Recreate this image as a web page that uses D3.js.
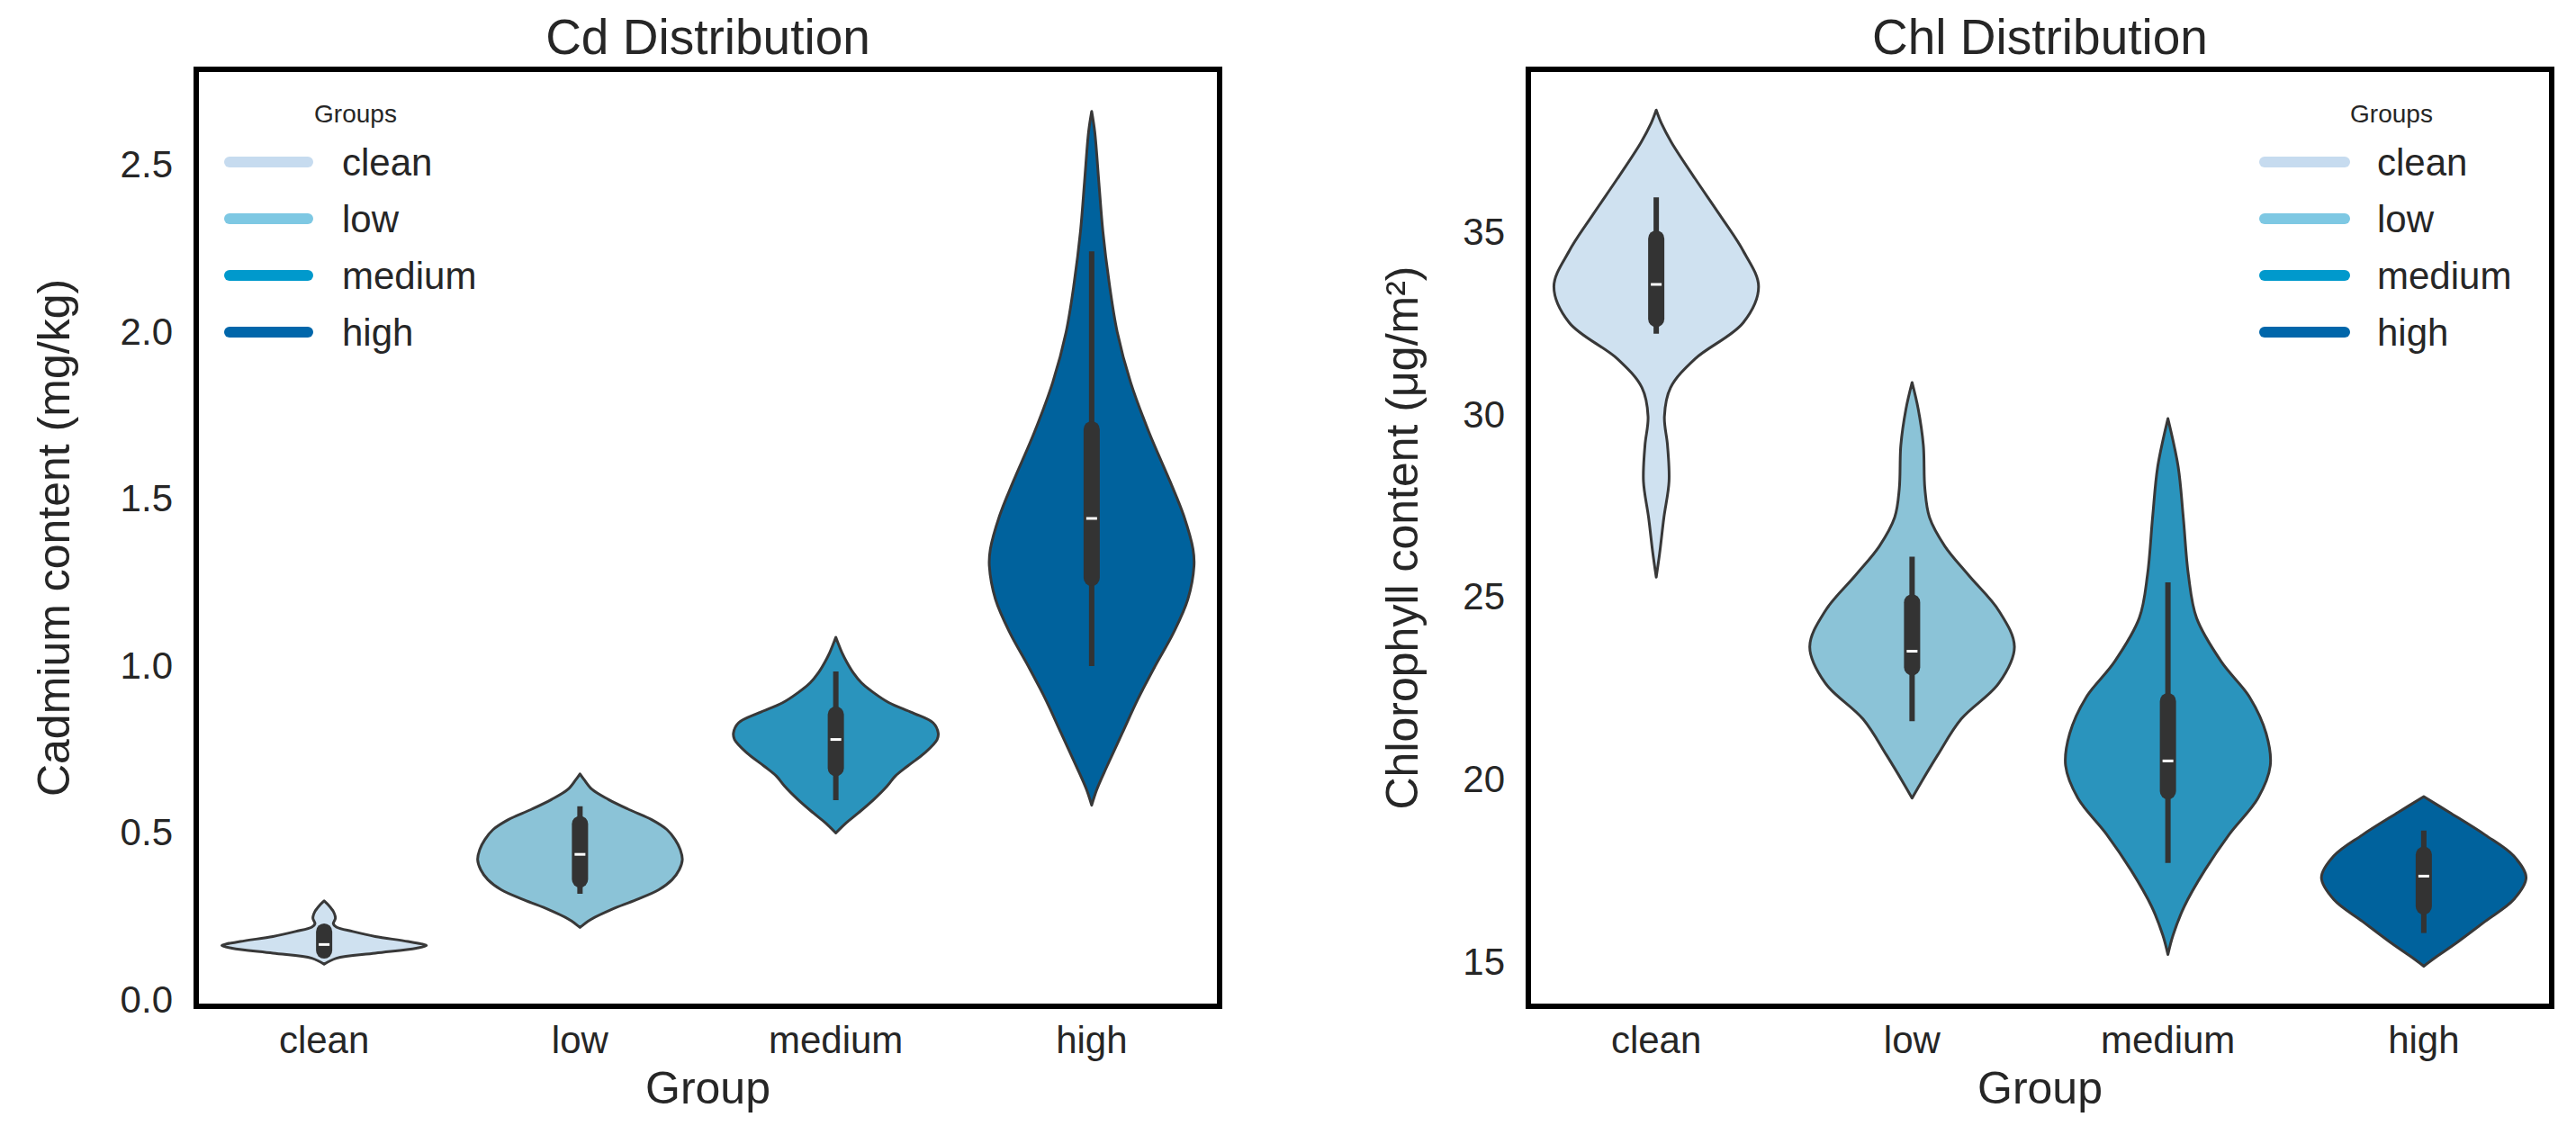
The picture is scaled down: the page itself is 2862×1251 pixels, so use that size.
<!DOCTYPE html>
<html>
<head>
<meta charset="utf-8">
<script src="https://cdn.jsdelivr.net/npm/d3@7/dist/d3.min.js"></script>
<style>
  html, body { margin: 0; padding: 0; background: #ffffff; }
  svg { display: block; }
  text { font-family: "Liberation Sans", Arial, sans-serif; fill: #262626; }
</style>
</head>
<body>
<svg id="chart" width="2862" height="1251"></svg>
<script>
// ---------------- DATA ----------------
const groups = ["clean", "low", "medium", "high"];
const legendColors = ["#c6dbef", "#7ec8e3", "#0099cc", "#0066aa"];
const fillColors = ["#cfe1f0", "#8bc3d7", "#2a94bd", "#00629d"];

const cdTicks = [0.0, 0.5, 1.0, 1.5, 2.0, 2.5];
const chlTicks = [15, 20, 25, 30, 35];

// violin density profiles: [value, relative width 0..1]
const cdClean = [[0.107,0],[0.125,0.12],[0.14,0.5],[0.155,0.9],[0.163,1.0],[0.175,0.82],[0.19,0.5],[0.205,0.28],[0.218,0.12],[0.228,0.09],[0.245,0.11],[0.265,0.09],[0.285,0.04],[0.297,0]];
const cdLow = [[0.217,0],[0.24,0.1],[0.27,0.3],[0.30,0.55],[0.33,0.77],[0.36,0.9],[0.39,0.97],[0.42,1.0],[0.45,0.98],[0.48,0.93],[0.51,0.85],[0.54,0.7],[0.57,0.48],[0.60,0.28],[0.63,0.12],[0.66,0.04],[0.677,0]];
const cdMedium = [[0.50,0],[0.53,0.1],[0.56,0.22],[0.60,0.37],[0.64,0.5],[0.67,0.58],[0.70,0.7],[0.74,0.87],[0.78,0.99],[0.80,1.0],[0.83,0.95],[0.86,0.75],[0.89,0.52],[0.92,0.37],[0.95,0.25],[0.98,0.17],[1.01,0.11],[1.04,0.06],[1.07,0.02],[1.086,0]];
const cdHigh = [[0.583,0],[0.63,0.05],[0.7,0.15],[0.8,0.3],[0.9,0.45],[1.0,0.62],[1.1,0.8],[1.2,0.94],[1.3,1.0],[1.35,0.99],[1.45,0.9],[1.55,0.77],[1.7,0.56],[1.85,0.38],[2.0,0.25],[2.15,0.17],[2.3,0.11],[2.45,0.07],[2.6,0.03],[2.661,0]];

const chlClean = [[25.55,0],[26.2,0.033],[27.19,0.075],[28.18,0.125],[29.17,0.11],[29.96,0.08],[30.75,0.14],[31.54,0.38],[32.53,0.85],[33.52,1.0],[34.5,0.85],[35.49,0.62],[36.48,0.38],[37.47,0.15],[38.0,0.05],[38.36,0]];
const chlLow = [[19.49,0],[19.88,0.08],[20.67,0.25],[21.66,0.48],[22.65,0.85],[23.64,1.0],[24.62,0.85],[25.61,0.55],[26.4,0.32],[27.19,0.17],[27.98,0.125],[29.17,0.11],[30.16,0.06],[30.89,0]];
const chlMedium = [[15.2,0],[15.73,0.05],[16.52,0.16],[17.51,0.36],[18.5,0.6],[19.49,0.88],[20.38,1.0],[21.26,0.96],[22.25,0.8],[23.24,0.52],[24.43,0.28],[25.61,0.2],[27.19,0.15],[28.58,0.1],[29.9,0]];
const chlHigh = [[14.88,0],[15.13,0.12],[15.52,0.32],[16.11,0.6],[16.71,0.88],[17.31,1.0],[17.9,0.88],[18.48,0.6],[19.1,0.25],[19.53,0]];

// inner box stats: [whiskerLow, q1, median, q3, whiskerHigh]
const cdBox = [[0.13,0.148,0.166,0.205,0.222],[0.318,0.361,0.436,0.527,0.58],[0.598,0.694,0.78,0.855,0.984],[1.0,1.264,1.442,1.709,2.242]];
const chlBox = [[32.23,32.63,33.58,34.84,35.97],[21.6,23.08,23.52,24.86,26.11],[17.71,19.68,20.51,22.15,25.41],[15.79,16.52,17.35,17.94,18.6]];

const panels = [
  { title: "Cd Distribution", ylabel: "Cadmium content (mg/kg)", left: 218, right: 1355,
    domain: [-0.019, 2.787], ticks: cdTicks, fmt: d3.format(".1f"),
    dens: [cdClean, cdLow, cdMedium, cdHigh], box: cdBox, ylabelX: 77,
    legendLineX: [249, 348], legendTextX: 380, legendTitleX: 395 },
  { title: "Chl Distribution", ylabel: "Chlorophyll content (μg/m²)", left: 1698, right: 2835,
    domain: [13.78, 39.48], ticks: chlTicks, fmt: d3.format("d"),
    dens: [chlClean, chlLow, chlMedium, chlHigh], box: chlBox, ylabelX: 1575,
    legendLineX: [2510, 2611], legendTextX: 2641, legendTitleX: 2657 }
];

// ---------------- DRAW ----------------
const svg = d3.select("#chart");
const plotTop = 77, plotBottom = 1118;

panels.forEach(p => {
  const g = svg.append("g");
  const x = d3.scaleBand().domain(groups).range([p.left, p.right]).padding(0);
  const y = d3.scaleLinear().domain(p.domain).range([plotBottom, plotTop]);
  const bw = x.bandwidth();
  const maxHalf = bw * 0.4;

  // violins
  groups.forEach((grp, i) => {
    const cx = x(grp) + bw / 2;
    const area = d3.area()
      .y(d => y(d[0]))
      .x0(d => cx - d[1] * maxHalf)
      .x1(d => cx + d[1] * maxHalf)
      .curve(d3.curveCatmullRom.alpha(0.5));
    g.append("path")
      .datum(p.dens[i])
      .attr("d", area)
      .attr("fill", fillColors[i])
      .attr("stroke", "#383838")
      .attr("stroke-width", 3)
      .attr("stroke-linejoin", "round");

    const b = p.box[i];
    g.append("line")
      .attr("x1", cx).attr("x2", cx)
      .attr("y1", y(b[0])).attr("y2", y(b[4]))
      .attr("stroke", "#333333").attr("stroke-width", 6);
    g.append("line")
      .attr("x1", cx).attr("x2", cx)
      .attr("y1", y(b[1])).attr("y2", y(b[3]))
      .attr("stroke", "#333333").attr("stroke-width", 18)
      .attr("stroke-linecap", "round");
    g.append("line")
      .attr("x1", cx - 6).attr("x2", cx + 6)
      .attr("y1", y(b[2])).attr("y2", y(b[2]))
      .attr("stroke", "#ffffff").attr("stroke-width", 3);
  });

  // frame
  g.append("rect")
    .attr("x", p.left).attr("y", plotTop)
    .attr("width", p.right - p.left).attr("height", plotBottom - plotTop)
    .attr("fill", "none").attr("stroke", "#000000").attr("stroke-width", 6);

  // y axis
  const yAxis = d3.axisLeft(y).tickValues(p.ticks).tickFormat(p.fmt).tickSize(0).tickPadding(26);
  const ya = g.append("g").attr("transform", `translate(${p.left},0)`).call(yAxis);
  ya.select(".domain").remove();
  ya.selectAll("text").attr("font-size", 42).style("fill", "#262626")
    .attr("font-family", "Liberation Sans, Arial, sans-serif");

  // x axis
  const xAxis = d3.axisBottom(x).tickSize(0).tickPadding(0);
  const xa = g.append("g").attr("transform", `translate(0,${plotBottom})`).call(xAxis);
  xa.select(".domain").remove();
  xa.selectAll("text").attr("font-size", 42).attr("dy", null).attr("y", 52)
    .style("fill", "#262626").attr("font-family", "Liberation Sans, Arial, sans-serif");

  // titles
  g.append("text").attr("x", (p.left + p.right) / 2).attr("y", 60)
    .attr("text-anchor", "middle").attr("font-size", 55).text(p.title);
  g.append("text").attr("x", (p.left + p.right) / 2).attr("y", 1226)
    .attr("text-anchor", "middle").attr("font-size", 50).text("Group");
  g.append("text")
    .attr("transform", `translate(${p.ylabelX},${(plotTop + plotBottom) / 2}) rotate(-90)`)
    .attr("text-anchor", "middle").attr("font-size", 50).text(p.ylabel);

  // legend
  g.append("text").attr("x", p.legendTitleX).attr("y", 136)
    .attr("text-anchor", "middle").attr("font-size", 28).text("Groups");
  groups.forEach((grp, i) => {
    const ly = 180 + i * 63;
    g.append("line")
      .attr("x1", p.legendLineX[0] + 6).attr("x2", p.legendLineX[1] - 6)
      .attr("y1", ly).attr("y2", ly)
      .attr("stroke", legendColors[i]).attr("stroke-width", 12)
      .attr("stroke-linecap", "round");
    g.append("text").attr("x", p.legendTextX).attr("y", ly + 15)
      .attr("font-size", 42).text(grp);
  });
});
</script>
</body>
</html>
